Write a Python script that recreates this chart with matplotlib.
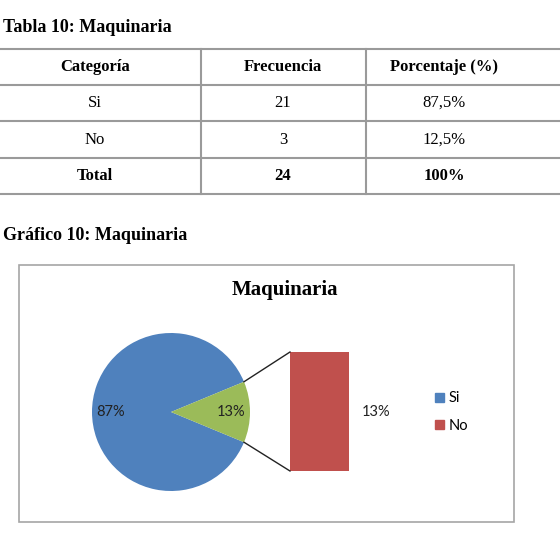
import numpy as np
import matplotlib
matplotlib.use("Agg")
import matplotlib.pyplot as plt
from matplotlib.patches import Rectangle, Patch

# table data
table_title = "Tabla 10: Maquinaria"
headers = ["Categoría", "Frecuencia", "Porcentaje (%)"]
categories = ["Si", "No"]
frequencies = [21, 3]
percent_text = ["87,5%", "12,5%"]
total_row = ["Total", "24", "100%"]

# chart data
chart_caption = "Gráfico 10: Maquinaria"
chart_title = "Maquinaria"
pie_labels = ["87%", "13%"]
bar_label = "13%"

blue = "#4F81BD"
green = "#9BBB59"
red = "#C0504D"
serif = "Liberation Serif"
sans = "Lato"

W, H = 560, 542
fig = plt.figure(figsize=(W / 100, H / 100), dpi=100)
ax = fig.add_axes([0, 0, 1, 1])

# ---- table ----
ax.text(3, 28, table_title, fontsize=13, fontweight="bold", family=serif, va="center")
row_y = [49, 85, 121, 158, 194]
for y in row_y:
    ax.plot([0, W], [y, y], color="#9a9a9a", lw=1.5)
for x in [201, 366]:
    ax.plot([x, x], [row_y[0], row_y[-1]], color="#9a9a9a", lw=1.5)
col_x = [95, 283, 444]
rows = [headers] + [[c, str(f), p] for c, f, p in zip(categories, frequencies, percent_text)] + [total_row]
for i, row in enumerate(rows):
    yc = (row_y[i] + row_y[i + 1]) / 2
    bold = i == 0 or i == len(rows) - 1
    for x, txt in zip(col_x, row):
        ax.text(x, yc, txt, fontsize=12, family=serif, ha="center", va="center",
                fontweight="bold" if bold else "normal")

# ---- chart ----
ax.text(3, 236, chart_caption, fontsize=13, fontweight="bold", family=serif, va="center")
ax.add_patch(Rectangle((19, 265), 495, 257, fill=False, edgecolor="#a6a6a6", lw=1.2))
ax.text(285, 290, chart_title, fontsize=15, fontweight="bold", family=serif, ha="center", va="center")

cx, cy, r = 171, 412, 79
half = 180 * frequencies[1] / sum(frequencies)
wedges, _ = ax.pie(frequencies, colors=[blue, green], center=(cx, cy), radius=r,
                   startangle=half, frame=True)
ax.set_xlim(0, W)
ax.set_ylim(H, 0)
ax.axis("off")
ax.set_aspect("equal")

for w, lab in zip(wedges, pie_labels):
    ang = np.deg2rad((w.theta1 + w.theta2) / 2)
    d = 0.76
    ax.text(cx + d * r * np.cos(ang), cy + d * r * np.sin(ang), lab,
            fontsize=10.5, family=sans, ha="center", va="center", color="#222222")

# bar of the secondary slice (only "No" goes there)
bar_x, bar_w, bar_top, bar_full = 319.5, 59, 352, 119
bar_h = bar_full * frequencies[1] / frequencies[1]
ax.bar(bar_x, bar_h, width=bar_w, bottom=bar_top, color=red)
ax.text(bar_x + bar_w / 2 + 13, bar_top + bar_h / 2, bar_label, fontsize=10.5,
        family=sans, ha="left", va="center", color="#222222")

# connector lines from slice edge to bar corners
a = np.deg2rad(half)
ex = cx + r * np.cos(a)
ax.plot([ex, bar_x - bar_w / 2], [cy - r * np.sin(a), bar_top], color="#222222", lw=1)
ax.plot([ex, bar_x - bar_w / 2], [cy + r * np.sin(a), bar_top + bar_h], color="#222222", lw=1)

handles = [Patch(color=blue), Patch(color=red)]
leg = ax.legend(handles, categories, loc="center left",
                bbox_to_anchor=(422 / W, 1 - 412 / H), frameon=False,
                handlelength=0.6, handleheight=0.6, handletextpad=0.3,
                labelspacing=0.9, prop={"family": sans, "size": 10.5})

fig.savefig("out.png", dpi=100, facecolor="white")
